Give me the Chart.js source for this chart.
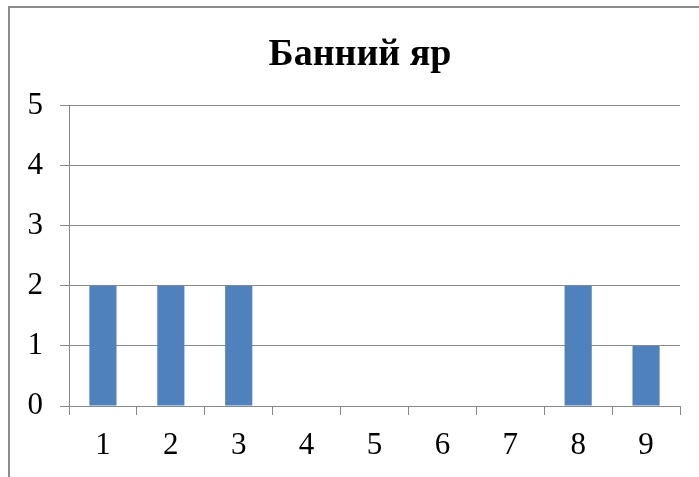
<!DOCTYPE html>
<html>
<head>
<meta charset="utf-8">
<title>Банний яр</title>
<script src="https://cdn.jsdelivr.net/npm/chart.js@4"></script>
<style>
  html, body { margin: 0; padding: 0; background: #ffffff; }
  #chart { display: block; }
</style>
</head>
<body>
<canvas id="chart" width="699" height="477"></canvas>
<script>
// Дані діаграми
const categories = ["1", "2", "3", "4", "5", "6", "7", "8", "9"];
const values = [2, 2, 2, 0, 0, 0, 0, 2, 1];
const chartTitle = "Банний яр";

const gridColor = "#888888";
const barColor = "#4F81BD";
const fontFamily = "'Liberation Serif', 'Times New Roman', serif";

// Рамка діаграми (видно лише лівий і верхній край)
const framePlugin = {
  id: "frame",
  afterLayout(chart) {
    // заголовок центрується по всій рамці, а не по області без правого відступу
    if (chart.titleBlock) {
      chart.titleBlock.left = 40;
      chart.titleBlock.right = 680;
    }
  },
  beforeDraw(chart) {
    const c = chart.ctx;
    c.save();
    c.strokeStyle = "#8c8c8c";
    c.lineWidth = 2;
    c.beginPath();
    c.moveTo(9, chart.height);
    c.lineTo(9, 7);
    c.lineTo(chart.width, 7);
    c.stroke();
    c.restore();
  }
};

const ctx = document.getElementById("chart").getContext("2d");

new Chart(ctx, {
  type: "bar",
  data: {
    labels: categories,
    datasets: [{
      data: values,
      backgroundColor: barColor,
      borderWidth: 0,
      barPercentage: 0.4,
      categoryPercentage: 1.0
    }]
  },
  options: {
    responsive: false,
    animation: false,
    layout: { padding: { left: 0, right: 19, top: 0, bottom: 0 } },
    scales: {
      x: {
        grid: {
          offset: true,
          drawOnChartArea: false,
          drawTicks: true,
          tickLength: 9,
          color: gridColor
        },
        border: { display: true, color: gridColor },
        ticks: {
          color: "#000000",
          padding: 12,
          font: { family: fontFamily, size: 31 }
        },
        afterFit(scale) { scale.height = 71; }
      },
      y: {
        min: 0,
        max: 5,
        ticks: {
          stepSize: 1,
          color: "#000000",
          padding: 17,
          font: { family: fontFamily, size: 31 }
        },
        grid: {
          color: gridColor,
          drawTicks: true,
          tickLength: 9
        },
        border: { display: true, color: gridColor },
        afterFit(scale) { scale.width = 69; }
      }
    },
    plugins: {
      legend: { display: false },
      tooltip: { enabled: false },
      title: {
        display: true,
        text: chartTitle,
        color: "#000000",
        font: { family: fontFamily, size: 38, weight: "bold" },
        padding: { top: 32, bottom: 28 }
      }
    }
  },
  plugins: [framePlugin]
});
</script>
</body>
</html>
